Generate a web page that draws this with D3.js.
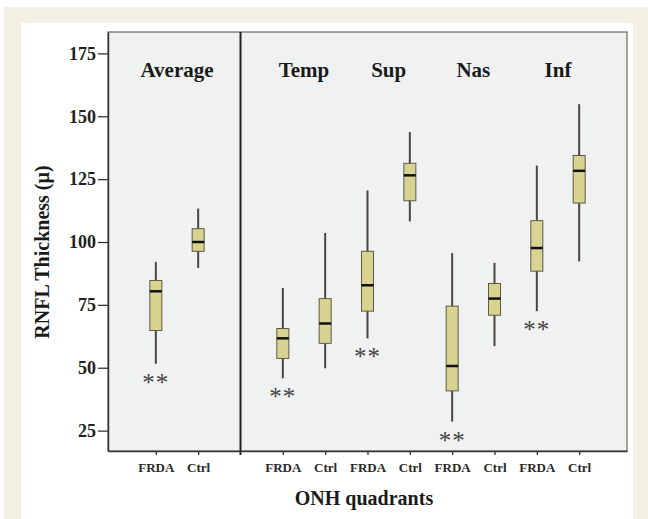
<!DOCTYPE html>
<html>
<head>
<meta charset="utf-8">
<script src="https://cdn.jsdelivr.net/npm/d3@7"></script>
<style>
  body { margin: 0; background: #ffffff; }
  svg { display: block; }
</style>
</head>
<body>
<svg id="chart" width="648" height="519"></svg>
<script>
// quadrants (Average is drawn in its own panel left of the divider)
const groups = ["Average", "Temp", "Sup", "Nas", "Inf"];
const seriesNames = ["FRDA", "Ctrl"];

// box plot stats: whisker low, Q1, median, Q3, whisker high
const frdaMin    = [51.6, 45.8, 61.7, 28.6, 72.5];
const frdaQ1     = [64.8, 53.7, 72.5, 40.8, 88.4];
const frdaMedian = [80.4, 61.7, 82.8, 50.7, 97.6];
const frdaQ3     = [84.7, 65.6, 96.3, 74.5, 108.5];
const frdaMax    = [92.1, 81.7, 120.5, 95.6, 130.4];

const ctrlMin    = [89.7, 49.8, 108.2, 58.6, 92.3];
const ctrlQ1     = [96.3, 59.7, 116.4, 70.9, 115.5];
const ctrlMedian = [100.0, 67.6, 126.5, 77.5, 128.3];
const ctrlQ3     = [105.3, 77.5, 131.3, 83.5, 134.4];
const ctrlMax    = [113.3, 103.6, 143.7, 91.7, 154.8];

const significance = ["**", "**", "**", "**", "**"];
const yTicks = [25, 50, 75, 100, 125, 150, 175];

const svg = d3.select("#chart");
const W = 648, H = 519;

// beige page frame and white figure panel
svg.append("rect").attr("x", 4).attr("y", 7).attr("width", W - 4).attr("height", H - 7).attr("fill", "#f3efe2");
svg.append("rect").attr("x", 21).attr("y", 23).attr("width", 612).attr("height", H - 23).attr("fill", "#ffffff");

const plot = { left: 108, right: 627, top: 32, bottom: 451 };

// slot keys: two boxes per group, with a spacer slot after Average
let slots = [];
groups.forEach((g, i) => {
    seriesNames.forEach(s => slots.push(g + "|" + s));
    if (i === 0) slots.push("gap");
});

const x = d3.scalePoint().domain(slots).range([plot.left, plot.right]).padding(1.13);
const y = d3.scaleLinear().domain([16.9, 183.5]).range([plot.bottom, plot.top]);

// build box records
let boxes = [];
groups.forEach((g, i) => {
    boxes.push({ key: g + "|FRDA", min: frdaMin[i], q1: frdaQ1[i], med: frdaMedian[i], q3: frdaQ3[i], max: frdaMax[i], sig: significance[i] });
    boxes.push({ key: g + "|Ctrl", min: ctrlMin[i], q1: ctrlQ1[i], med: ctrlMedian[i], q3: ctrlQ3[i], max: ctrlMax[i], sig: "" });
});

const serif = "'Liberation Serif', 'Times New Roman', serif";

// plot background
svg.append("rect").attr("x", plot.left).attr("y", plot.top)
    .attr("width", plot.right - plot.left).attr("height", plot.bottom - plot.top)
    .attr("fill", "#f0f2f1").attr("stroke", "#6a6462").attr("stroke-width", 1.2);

// divider between Average and the quadrants
svg.append("line").attr("x1", x("gap")).attr("x2", x("gap"))
    .attr("y1", plot.top).attr("y2", plot.bottom + 4)
    .attr("stroke", "#222").attr("stroke-width", 2);

// y axis
const yAxis = d3.axisLeft(y).tickValues(yTicks).tickSize(10).tickSizeOuter(0).tickPadding(2);
const yg = svg.append("g").attr("transform", `translate(${plot.left},0)`).call(yAxis);
yg.select(".domain").attr("stroke", "#3a3532").attr("stroke-width", 1.5);
yg.selectAll(".tick line").attr("stroke", "#3a3532").attr("stroke-width", 1.3);
yg.selectAll(".tick text").attr("font-family", serif).attr("font-weight", "bold")
    .attr("font-size", 18).attr("fill", "#222");

// x axis
const xAxis = d3.axisBottom(x).tickValues(slots.filter(s => s !== "gap"))
    .tickSize(4).tickSizeOuter(0).tickPadding(8).tickFormat(d => d.split("|")[1]);
const xg = svg.append("g").attr("transform", `translate(0,${plot.bottom})`).call(xAxis);
xg.select(".domain").attr("stroke", "#3a3532").attr("stroke-width", 1.5);
xg.selectAll(".tick line").attr("stroke", "#3a3532").attr("stroke-width", 1.3);
xg.selectAll(".tick text").attr("font-family", serif).attr("font-weight", "bold")
    .attr("font-size", 13).attr("fill", "#2a2a2a");

// boxes
const boxW = 12;
const bg = svg.append("g");
boxes.forEach(b => {
    const cx = x(b.key);
    bg.append("line").attr("x1", cx).attr("x2", cx).attr("y1", y(b.max)).attr("y2", y(b.min))
        .attr("stroke", "#4a4541").attr("stroke-width", 2);
    bg.append("rect").attr("x", cx - boxW / 2).attr("y", y(b.q3))
        .attr("width", boxW).attr("height", y(b.q1) - y(b.q3))
        .attr("fill", "#d9d392").attr("stroke", "#5e5a45").attr("stroke-width", 1);
    bg.append("line").attr("x1", cx - boxW / 2).attr("x2", cx + boxW / 2)
        .attr("y1", y(b.med)).attr("y2", y(b.med))
        .attr("stroke", "#111").attr("stroke-width", 2.5);
    if (b.sig) {
        bg.append("text").text(b.sig).attr("x", cx).attr("y", y(b.min) + 27)
            .attr("text-anchor", "middle").attr("font-family", serif)
            .attr("font-size", 25).attr("letter-spacing", 1).attr("fill", "#444");
    }
});

// group titles
groups.forEach(g => {
    const cx = (x(g + "|FRDA") + x(g + "|Ctrl")) / 2;
    svg.append("text").text(g).attr("x", cx).attr("y", 77)
        .attr("text-anchor", "middle").attr("font-family", serif).attr("font-weight", "bold")
        .attr("font-size", 21).attr("fill", "#1a1a1a");
});

// axis titles
svg.append("text").text("ONH quadrants").attr("x", 364).attr("y", 505)
    .attr("text-anchor", "middle").attr("font-family", serif).attr("font-weight", "bold")
    .attr("font-size", 20).attr("fill", "#1a1a1a");

svg.append("text").text("RNFL Thickness (\u00b5)")
    .attr("transform", `translate(49,${252}) rotate(-90)`)
    .attr("text-anchor", "middle").attr("font-family", serif).attr("font-weight", "bold")
    .attr("font-size", 20).attr("fill", "#1a1a1a");
</script>
</body>
</html>
